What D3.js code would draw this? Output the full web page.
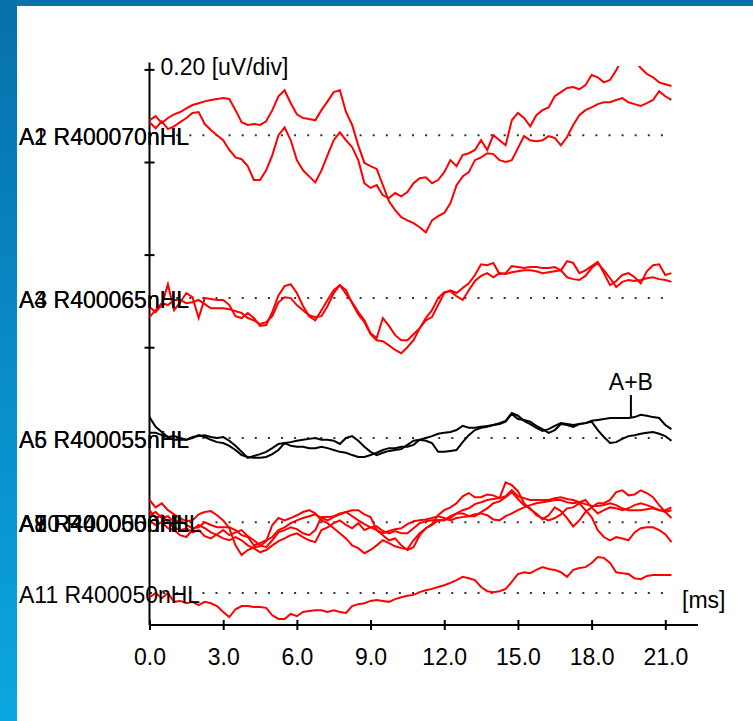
<!DOCTYPE html>
<html><head><meta charset="utf-8">
<script src="https://cdn.jsdelivr.net/npm/d3@7"></script>
<style>html,body{margin:0;padding:0;background:#fff;overflow:hidden}</style>
</head><body><svg id="c" width="753" height="721"></svg>
<script>
// ---------- data ----------
const sampleIntervalMs = 0.25;
const xTickValues = [0, 3, 6, 9, 12, 15, 18, 21];
const xTickLabels = ["0.0", "3.0", "6.0", "9.0", "12.0", "15.0", "18.0", "21.0"];
const yTickValues = [0.6, 0.8, 1.0, 1.2];       // uV
const yScaleLabel = "0.20 [uV/div]";
const xUnitLabel = "[ms]";
// channel baselines (uV on the stacked axis)
const channelOffsets = [1.058, 0.706, 0.404, 0.222, 0.069];
const channelLabels = [
  ["A1 R400070nHL", "A2 R400070nHL"],
  ["A3 R400065nHL", "A4 R400065nHL"],
  ["A5 R400055nHL", "A6 R400055nHL"],
  ["A7 R400050nHL", "A8 R400050nHL", "A9 R400050nHL", "A10 R400050nHL"],
  ["A11 R400050nHL"]
];
// waveforms, nV relative to channel baseline, one sample every 0.25 ms
const a1Values = [32,41,26,37,45,50,58,65,69,73, 76,78,80,78,54,28,22,24,22,30, 54,84,97,69,45,37,35,32,54,73,
  93,97,50,22,-22,-60,-67,-73,-108,-143, -162,-177,-184,-190,-199,-210,-184,-175,-168,-147,
  -108,-89,-80,-54,-48,-39,-41,-54,-58,-54, -28,-2,-11,-13,-11,-2,-6,-22,-4,22, 43,54,60,67,71,71,76,80,71,67, 63,69,76,95,84,76];
const a2Values = [28,15,30,13,19,28,37,48,50,24, 11,0,-11,-32,-48,-52,-67,-97,-97,-76, -43,0,17,-11,-54,-76,-89,-102,-76,-43,
  -11,6,-11,-26,-54,-104,-114,-108,-130,-136, -125,-132,-123,-104,-93,-91,-104,-97,-80,-54,
  -67,-43,-39,-32,-11,-32,0,-11,-22,32, 48,37,19,43,54,60,84,93,102,104, 99,108,130,125,114,119,140,166,171,162, 145,132,125,114,110,106];
const a3Values = [-19,-30,-15,30,-26,-9,11,2,-43,0, -2,-4,-4,-15,-39,-43,-32,-43,-60,-58, -30,6,26,30,11,-17,-39,-48,-26,-4,
  17,28,9,-9,-30,-48,-76,-86,-43,-60, -80,-91,-91,-78,-65,-43,-26,0,13,15, 4,-4,17,37,48,54,45,54,52,56,
  58,60,60,58,54,56,58,60,45,41, 39,48,65,76,60,43,24,35,39,37, 39,43,45,41,39,35];
const a4Values = [-41,-26,-11,-15,-4,-4,-11,-9,-4,-13, -22,-22,-22,-24,-28,-32,-43,-48,-56,-52, -39,-9,2,0,-15,-26,-37,-41,-39,-17,
  11,28,17,-11,-35,-52,-78,-91,-93,-102, -112,-119,-106,-91,-65,-48,-41,-15,11,17, 11,22,32,50,73,71,76,52,54,69,
  67,65,67,67,65,65,67,60,80,76, 54,60,69,78,54,28,37,50,54,45, 32,58,71,73,50,54];
const a5Values = [45,24,13,2,4,0,-4,2,4,6, 2,0,2,-6,-17,-30,-43,-39,-35,-30, -22,-13,-11,-9,-6,-4,-2,0,-4,-4,
  -6,-13,0,4,-6,-19,-30,-37,-32,-28, -26,-24,-15,-6,-4,0,4,9,11,13, 17,26,22,22,24,26,28,32,37,54,
  48,37,30,22,15,19,26,32,30,28, 30,32,37,39,41,43,43,43,43,45, 50,48,45,43,28,19];
const a6Values = [11,11,6,2,-4,-4,-4,0,6,2, -4,-9,-11,-17,-26,-37,-41,-43,-43,-41, -35,-26,-11,-17,-19,-19,-22,-22,-19,-22,
  -26,-30,-32,-37,-41,-41,-37,-32,-26,-22, -22,-19,-19,-15,-4,-6,-11,-30,-30,-28, -26,-9,6,17,22,24,28,30,35,52,
  41,39,35,26,19,11,17,30,28,24, 30,32,35,17,2,-11,-9,-2,4,6, 9,11,13,9,4,-6];
const a7Values = [48,32,41,26,17,9,2,4,17,22, 24,15,4,-13,-50,-71,-60,-54,-52,-41, -6,9,4,9,15,22,26,19,4,-2,
  -13,-24,-35,-50,-56,-67,-60,-50,-39,-45, -52,-56,-58,-39,-24,-13,-6,4,4,9, 19,19,13,13,22,30,41,45,54,65,
  50,37,30,15,9,4,9,17,30,32, 41,26,11,-17,-32,-39,-32,-35,-39,-22, -13,-11,-11,-17,-26,-43];
const a8Values = [15,22,9,13,0,4,-6,-13,-11,0, -6,-11,-11,-11,-17,-28,-32,-50,-45,-39, -32,-17,-11,-2,4,9,13,17,9,4,
  11,17,22,26,26,17,11,-17,-28,-39, -35,-50,-60,-54,-28,-13,-4,15,26,32, 41,56,63,54,54,60,58,52,86,80,
  67,41,28,19,6,15,32,24,9,-9, 4,22,32,41,41,48,65,69,58,60, 69,63,54,37,22,9];
const a9Values = [4,-6,0,-13,-17,-28,-32,-17,-6,-13, -22,-28,-35,-39,-32,-39,-50,-56,-65,-60, -50,-41,-35,-28,-24,-32,-39,-43,-17,-11,
  -2,4,-6,-13,-2,-17,-11,-9,-19,-24, -19,-24,-24,-13,-2,2,4,4,4,13, 19,26,30,39,43,48,50,52,56,69,
  56,52,48,48,48,48,52,54,50,48, 43,39,35,35,37,41,37,30,26,26, 26,28,30,26,26,32];
const a10Values = [26,9,15,0,-11,-17,-13,-22,-17,-30, -35,-26,-17,-28,-22,-17,-30,-39,-50,-54, -39,-22,-17,-11,-15,-24,-28,-17,11,11,
  13,19,22,13,4,-4,-11,-17,-24,-19, -15,-13,-4,2,4,6,9,13,9,4, 9,11,13,17,19,15,6,4,13,19,
  26,32,37,41,43,45,48,48,43,41, 43,48,32,19,26,32,30,26,30,37, 41,37,32,26,22,26];
const a11Values = [-9,0,-11,0,-19,-17,-22,-19,-26,-19, -22,-28,-41,-52,-35,-28,-28,-30,-30,-32, -48,-56,-56,-45,-50,-41,-39,-37,-37,-41,
  -37,-41,-43,-28,-24,-22,-17,-15,-17,-19, -13,-9,-6,-4,2,6,9,13,17,22, 28,35,32,28,13,4,2,4,9,24,
  41,45,43,50,56,52,50,45,35,50, 54,56,65,78,76,65,45,43,41,32, 30,37,39,39,39,39];
const markerLabel = "A+B";
const markerTimeMs = 19.6;

// ---------- layout ----------
const svg = d3.select("#c");
const W = 753, H = 721;
const FONT = "'Liberation Sans', Arial, sans-serif";
const FS = 23;

// frame
const defs = svg.append("defs");
const grad = defs.append("linearGradient").attr("id", "lg").attr("x1", 0).attr("y1", 0).attr("x2", 0).attr("y2", 1);
grad.append("stop").attr("offset", "0%").attr("stop-color", "#0670ab");
grad.append("stop").attr("offset", "100%").attr("stop-color", "#0ba6e1");
svg.append("rect").attr("x", 0).attr("y", 0).attr("width", W).attr("height", H).attr("fill", "#ffffff");
svg.append("rect").attr("x", 0).attr("y", 0).attr("width", W).attr("height", 6).attr("fill", "#0774b0");
svg.append("rect").attr("x", 0).attr("y", 0).attr("width", 17).attr("height", H).attr("fill", "url(#lg)");

const x = d3.scaleLinear().domain([0, 21]).range([149.5, 665.3]);
const y = d3.scaleLinear().domain([0, 1.2]).range([625, 69.4]);

// dotted baselines
svg.append("g").selectAll("line").data(channelOffsets).join("line")
  .attr("x1", x(0) + 0.5).attr("x2", x(21.2))
  .attr("y1", d => y(d)).attr("y2", d => y(d))
  .attr("stroke", "#333").attr("stroke-width", 2).attr("stroke-dasharray", "2 11.1");

// axes
const xAxis = svg.append("g").attr("transform", `translate(0,${y(0)})`)
  .call(d3.axisBottom(x).tickValues(xTickValues).tickFormat((d, i) => xTickLabels[i]).tickSize(5).tickPadding(19));
xAxis.select(".domain").remove();
xAxis.selectAll(".tick line").attr("y1", -5).attr("y2", 5).attr("stroke", "#000").attr("stroke-width", 2);
xAxis.selectAll(".tick text").attr("font-family", FONT).attr("font-size", FS).attr("fill", "#000");
svg.append("line").attr("x1", x(0)).attr("x2", 698).attr("y1", y(0)).attr("y2", y(0))
  .attr("stroke", "#000").attr("stroke-width", 2);

const yAxis = svg.append("g").attr("transform", `translate(${x(0)},0)`)
  .call(d3.axisLeft(y).tickValues(yTickValues).tickFormat("").tickSize(5));
yAxis.select(".domain").remove();
yAxis.selectAll(".tick line").attr("x1", -5).attr("x2", 5).attr("stroke", "#000").attr("stroke-width", 2);
svg.append("line").attr("x1", x(0)).attr("x2", x(0)).attr("y1", y(1.215)).attr("y2", y(0))
  .attr("stroke", "#000").attr("stroke-width", 2);

svg.append("text").attr("x", x(0) + 11).attr("y", y(1.2) + 6).text(yScaleLabel)
  .attr("font-family", FONT).attr("font-size", FS).attr("fill", "#000");
svg.append("text").attr("x", 682).attr("y", 608).text(xUnitLabel)
  .attr("font-family", FONT).attr("font-size", FS).attr("fill", "#000");

// traces
defs.append("clipPath").attr("id", "plotclip").append("rect")
  .attr("x", 140).attr("y", 66).attr("width", 560).attr("height", 560);
const series = [
  {ch: 0, color: "#ff0000", values: a1Values},
  {ch: 0, color: "#ff0000", values: a2Values},
  {ch: 1, color: "#ff0000", values: a3Values},
  {ch: 1, color: "#ff0000", values: a4Values},
  {ch: 2, color: "#000000", values: a5Values},
  {ch: 2, color: "#000000", values: a6Values},
  {ch: 3, color: "#ff0000", values: a7Values},
  {ch: 3, color: "#ff0000", values: a8Values},
  {ch: 3, color: "#ff0000", values: a9Values},
  {ch: 3, color: "#ff0000", values: a10Values},
  {ch: 4, color: "#ff0000", values: a11Values}
];
const line = d3.line().curve(d3.curveLinear);
const tg = svg.append("g").attr("clip-path", "url(#plotclip)");
series.forEach(s => {
  const pts = s.values.map((v, i) => [x(i * sampleIntervalMs), y(channelOffsets[s.ch] + v / 1000)]);
  tg.append("path").attr("d", line(pts)).attr("fill", "none")
    .attr("stroke", s.color).attr("stroke-width", 2).attr("stroke-linejoin", "miter");
});

// channel labels (drawn on top of each other, as in the recording software)
channelLabels.forEach((labs, ci) => {
  labs.forEach(t => {
    svg.append("text").attr("x", 19).attr("y", y(channelOffsets[ci]) + 10).text(t)
      .attr("font-family", FONT).attr("font-size", FS).attr("fill", "#000");
  });
});

// A+B marker
const mi = Math.round(markerTimeMs / sampleIntervalMs);
const my = y(channelOffsets[2] + a5Values[mi] / 1000);
svg.append("line").attr("x1", x(markerTimeMs)).attr("x2", x(markerTimeMs))
  .attr("y1", my).attr("y2", my - 23).attr("stroke", "#000").attr("stroke-width", 2);
svg.append("text").attr("x", x(markerTimeMs)).attr("y", my - 28).attr("text-anchor", "middle")
  .text(markerLabel).attr("font-family", FONT).attr("font-size", FS).attr("fill", "#000");
</script></body></html>
